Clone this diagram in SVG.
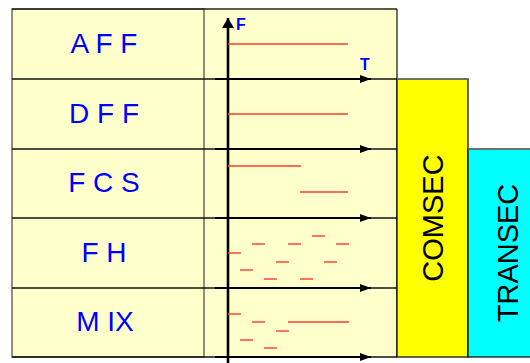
<svg xmlns="http://www.w3.org/2000/svg" width="530" height="363" viewBox="0 0 530 363">
<defs>
<style>
.cell{fill:#ffffcc;stroke:none}
.lbl{font-family:"Liberation Sans",Arial,sans-serif;font-size:28px;fill:#0000ff;text-anchor:middle}
.ax{font-family:"Liberation Sans",Arial,sans-serif;font-size:16px;font-weight:bold;fill:#0000ff}
.big{font-family:"Liberation Sans",Arial,sans-serif;font-size:29px;fill:#000;text-anchor:middle}
.row{stroke:#111;stroke-width:1.3;fill:none}
.haxis{stroke:#000;stroke-width:2;fill:none;marker-end:url(#ah)}
.sig{stroke:#ff3c2c;stroke-width:1.4;fill:none}
</style>
<marker id="ah" viewBox="0 0 11 8" refX="11" refY="4" markerWidth="11" markerHeight="8" markerUnits="userSpaceOnUse" orient="auto">
<path d="M0,0 L11,4 L0,8 Z" fill="#000"/>
</marker>
<marker id="av" viewBox="0 0 10 12" refX="10" refY="6" markerWidth="10" markerHeight="12" markerUnits="userSpaceOnUse" orient="auto">
<path d="M0,0 L10,6 L0,12 Z" fill="#000"/>
</marker>
</defs>

<g id="table">
<rect class="cell" x="12" y="9" width="385" height="348"/>
<rect x="12" y="9" width="192" height="348" fill="none" stroke="#6b6b5a" stroke-width="1.5"/>
<line x1="12" y1="9" x2="397" y2="9" stroke="#222" stroke-width="1.3"/>
<line x1="397" y1="9" x2="397" y2="357" stroke="#111" stroke-width="1.2"/>
<line class="row" x1="12" y1="79" x2="397" y2="79"/>
<line class="row" x1="12" y1="149" x2="397" y2="149"/>
<line class="row" x1="12" y1="218" x2="397" y2="218"/>
<line class="row" x1="12" y1="288" x2="397" y2="288"/>
<line class="row" x1="12" y1="357" x2="397" y2="357"/>
</g>

<g id="row-aff"><text class="lbl" x="104" y="53">A F F</text></g>
<g id="row-dff"><text class="lbl" x="104" y="123">D F F</text></g>
<g id="row-fcs"><text class="lbl" x="104" y="192">F C S</text></g>
<g id="row-fh"><text class="lbl" x="104" y="262">F H</text></g>
<g id="row-mix"><text class="lbl" x="105" y="331">M IX</text></g>

<g id="comsec">
<rect x="397" y="79" width="71" height="278" fill="#ffff00" stroke="#000" stroke-width="1.2"/>
<line x1="397" y1="79" x2="468" y2="79" stroke="#777" stroke-width="1.5"/>
<text class="big" transform="translate(443,218) rotate(-90)">COMSEC</text>
</g>

<g id="transec">
<rect x="468" y="149" width="64" height="208" fill="#00ffff" stroke="#000" stroke-width="1.2"/>
<line x1="468" y1="149" x2="530" y2="149" stroke="#777" stroke-width="1.5"/>
<text class="big" transform="translate(518,253) rotate(-90)">TRANSEC</text>
</g>

<g id="connectors">
<line x1="228" y1="363" x2="228" y2="18" stroke="#000" stroke-width="2.6" marker-end="url(#av)"/>
<line class="haxis" x1="215" y1="79" x2="371" y2="79"/>
<line class="haxis" x1="215" y1="149" x2="371" y2="149"/>
<line class="haxis" x1="215" y1="218" x2="371" y2="218"/>
<line class="haxis" x1="215" y1="288" x2="371" y2="288"/>
<line class="haxis" x1="215" y1="357" x2="371" y2="357"/>
</g>
<text class="ax" x="236" y="30">F</text>
<text class="ax" x="360" y="70">T</text>

<g id="signals">
<line class="sig" x1="228" y1="44" x2="348" y2="44"/>
<line class="sig" x1="228" y1="114" x2="348" y2="114"/>
<line class="sig" x1="228" y1="166" x2="301" y2="166"/>
<line class="sig" x1="300" y1="192" x2="348" y2="192"/>
<line class="sig" x1="312" y1="236" x2="325" y2="236"/>
<line class="sig" x1="252" y1="244" x2="265" y2="244"/>
<line class="sig" x1="288" y1="244" x2="301" y2="244"/>
<line class="sig" x1="336" y1="244" x2="349" y2="244"/>
<line class="sig" x1="228" y1="253" x2="241" y2="253"/>
<line class="sig" x1="276" y1="262" x2="289" y2="262"/>
<line class="sig" x1="324" y1="262" x2="337" y2="262"/>
<line class="sig" x1="240" y1="270" x2="253" y2="270"/>
<line class="sig" x1="264" y1="279" x2="277" y2="279"/>
<line class="sig" x1="300" y1="279" x2="313" y2="279"/>
<line class="sig" x1="228" y1="314" x2="241" y2="314"/>
<line class="sig" x1="252" y1="322" x2="265" y2="322"/>
<line class="sig" x1="288" y1="322" x2="349" y2="322"/>
<line class="sig" x1="276" y1="331" x2="289" y2="331"/>
<line class="sig" x1="240" y1="340" x2="253" y2="340"/>
<line class="sig" x1="264" y1="348" x2="277" y2="348"/>
</g>
</svg>
